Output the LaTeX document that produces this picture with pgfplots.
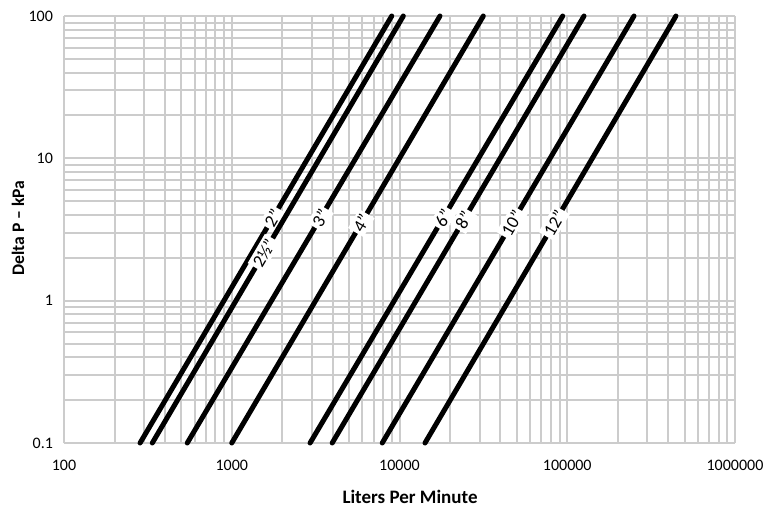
\documentclass[border=0pt]{standalone}
\usepackage{fontspec}
\setmainfont{Carlito}
\usepackage{pgfplots}
\pgfplotsset{compat=1.18}
\definecolor{gridgray}{RGB}{204,204,204}
\tikzset{sizelabel/.style={sloped, fill=white, text=black, inner sep=1.3pt,
    font=\fontsize{9}{10}\selectfont}}

\begin{document}
\begin{tikzpicture}
\useasboundingbox (0,0) rectangle (383pt,-257pt);
\begin{axis}[
  at={(32pt,-221.5pt)}, anchor=south west,
  scale only axis, width=335.5pt, height=213.5pt,
  xmode=log, ymode=log,
  xmin=100, xmax=1000000, ymin=0.1, ymax=100,
  xtick={100,1000,10000,100000,1000000},
  ytick={0.1,1,10,100},
  log ticks with fixed point,
  /pgf/number format/1000 sep={},
  /pgf/number format/assume math mode=true,
  grid=both,
  major grid style={gridgray, line width=1pt},
  minor grid style={gridgray, line width=1pt},
  axis line style={draw=none},
  tick style={draw=none},
  ticklabel style={font=\fontsize{8}{9}\selectfont},
  xticklabel style={anchor=base, yshift=-13.5pt},
  yticklabel style={xshift=-2pt},
  xlabel={Liters Per Minute},
  ylabel={Delta P – kPa},
  xlabel style={at={(axis description cs:0.5157,-0.1405)}, anchor=base,
    font=\fontsize{9.5}{11}\selectfont\bfseries},
  ylabel style={at={(axis description cs:-0.0686,0.5035)}, anchor=center,
    font=\fontsize{8.8}{11}\selectfont\bfseries},
  clip=false,
  pipe/.style={black, mark=none, line width=2.5pt, line cap=round},
]
\addplot[pipe] coordinates {(284,0.1) (8990,100)} node[sizelabel, pos=0.527] {2"};
\addplot[pipe] coordinates {(336,0.1) (10540,100)} node[sizelabel, pos=0.445] {2½"};
\addplot[pipe] coordinates {(543,0.1) (17430,100)} node[sizelabel, pos=0.527] {3"};
\addplot[pipe] coordinates {(1000,0.1) (31600,100)} node[sizelabel, pos=0.515] {4"};
\addplot[pipe] coordinates {(2930,0.1) (93970,100)} node[sizelabel, pos=0.527] {6"};
\addplot[pipe] coordinates {(3970,0.1) (125900,100)} node[sizelabel, pos=0.522] {8"};
\addplot[pipe] coordinates {(7890,0.1) (250000,100)} node[sizelabel, pos=0.515] {10"};
\addplot[pipe] coordinates {(14190,0.1) (444600,100)} node[sizelabel, pos=0.515] {12"};
\end{axis}
\end{tikzpicture}
\end{document}
